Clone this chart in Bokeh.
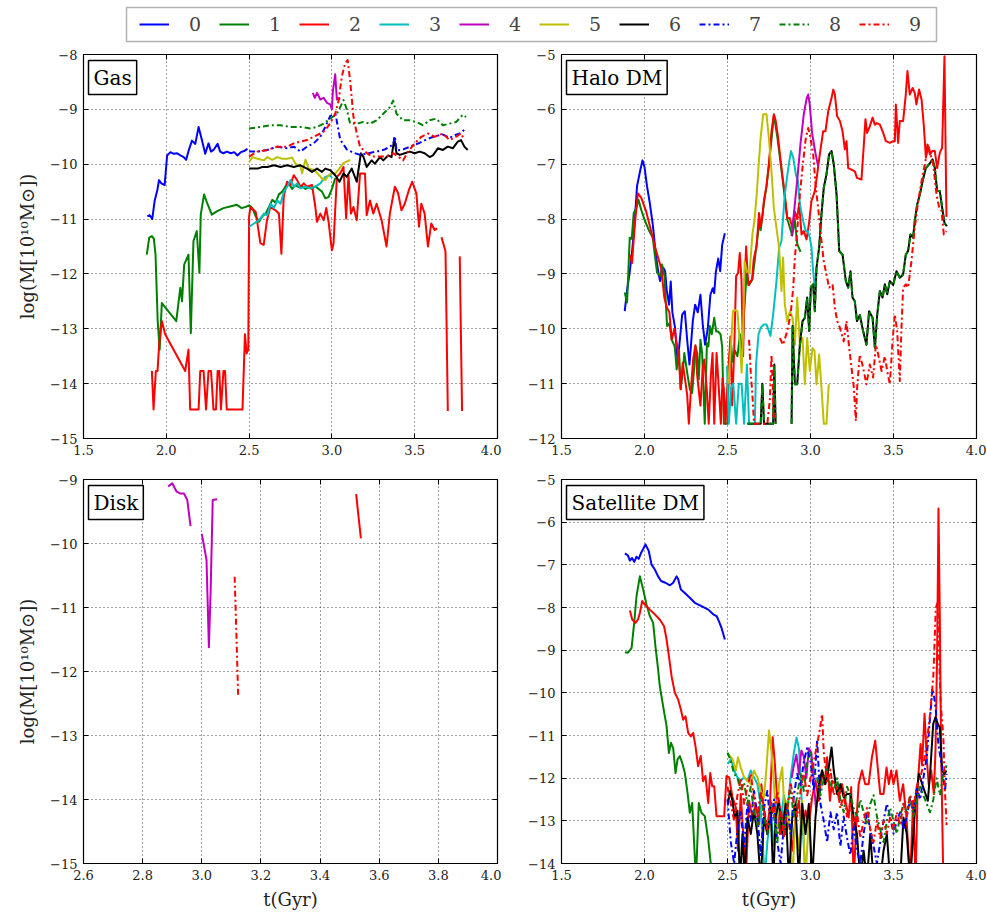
from bokeh.plotting import figure
from bokeh.models import (Range1d, FixedTicker, Label, Legend, LegendItem,
                          LinearAxis, CustomJSTickFormatter, BoxAnnotation)
from bokeh.layouts import column, row
from bokeh.embed import file_html
from bokeh.resources import INLINE

nan = float("nan")

SERIES = [str(i) for i in range(10)]
COLORS = ["#0000ff", "#008000", "#ff0000", "#00bfbf", "#bf00bf",
          "#bfbf00", "#000000", "#0000ff", "#008000", "#ff0000"]
DASHES = ["solid"] * 7 + ["6 3 2 3"] * 3

X_TICKS = [1.5, 2.0, 2.5, 3.0, 3.5, 4.0]
X_TICKS_DISK = [2.6, 2.8, 3.0, 3.2, 3.4, 3.6, 3.8, 4.0]
Y_TICKS_GAS = [-15, -14, -13, -12, -11, -10, -9, -8]
Y_TICKS_HALO = [-12, -11, -10, -9, -8, -7, -6, -5]
Y_TICKS_DISK = [-15, -14, -13, -12, -11, -10, -9]
Y_TICKS_SAT = [-14, -13, -12, -11, -10, -9, -8, -7, -6, -5]

# ---------------- Gas ----------------
GAS_0 = [(1.886,-10.95),(1.90,-10.93),(1.915,-11.0),(1.93,-10.66),(1.946,-10.47),(1.956,-10.29),
         (1.97,-10.35),(1.99,-10.38),(2.005,-9.84),(2.025,-9.78),(2.045,-9.81),(2.065,-9.80),
         (2.085,-9.84),(2.105,-9.87),(2.12,-9.92),(2.135,-9.75),(2.155,-9.57),(2.175,-9.63),
         (2.195,-9.32),(2.215,-9.56),(2.235,-9.81),(2.255,-9.62),(2.27,-9.77),(2.285,-9.74),
         (2.31,-9.63),(2.325,-9.77),(2.345,-9.80),(2.365,-9.77),(2.39,-9.80),(2.41,-9.78),
         (2.43,-9.84),(2.45,-9.78),(2.47,-9.76),(2.49,-9.72)]
GAS_1 = [(1.882,-11.65),(1.897,-11.34),(1.913,-11.31),(1.925,-11.36),(1.935,-11.65),(1.948,-12.86),
         (1.96,-13.38),(1.973,-12.53),(2.06,-12.86),(2.085,-12.25),(2.095,-12.5),(2.108,-11.83),
         (2.134,-11.65),(2.148,-13.08),(2.164,-11.4),(2.184,-11.22),(2.20,-11.98),(2.208,-10.92),
         (2.228,-10.55),(2.248,-10.72),(2.275,-10.92),(2.305,-10.86),(2.345,-10.80),(2.385,-10.77),
         (2.426,-10.74),(2.456,-10.8),(2.486,-10.77),(2.50,-10.75),(2.52,-10.80),(2.54,-10.95),
         (2.56,-11.05),(2.58,-10.95),(2.60,-10.90),(2.62,-10.78),(2.64,-10.65),(2.66,-10.70),
         (2.68,-10.55),(2.70,-10.50),(2.72,-10.40),(2.74,-10.35),(2.76,-10.45),(2.78,-10.38),
         (2.80,-10.42),(2.82,-10.40),(2.84,-10.45),(2.86,-10.42),(2.88,-10.45),(2.90,-10.40),
         (2.92,-10.45),(2.94,-10.50),(2.96,-10.62),(2.98,-10.60),(3.00,-10.45),(3.02,-10.25)]
GAS_2 = [(1.913,-13.77),(1.923,-14.47),(1.937,-13.77),(1.947,-13.77),(1.957,-13.28),(1.973,-12.86),
         (1.993,-13.1),(2.114,-13.77),(2.134,-13.38),(2.144,-14.47),(2.195,-14.47),(2.205,-13.77),
         (2.225,-13.77),(2.24,-14.47),(2.255,-13.77),(2.27,-13.77),(2.285,-14.47),(2.30,-14.47),
         (2.31,-13.77),(2.32,-13.77),(2.33,-14.47),(2.345,-13.77),(2.355,-13.77),(2.365,-14.47),
         (2.46,-14.47),(2.475,-13.1),(2.485,-13.45),(2.495,-13.38),(2.50,-10.95),(2.508,-10.78),
         (2.54,-10.87),(2.568,-11.44),(2.588,-11.47),(2.608,-11.02),(2.628,-10.78),(2.659,-10.84),
         (2.68,-10.9),(2.695,-11.63),(2.709,-10.6),(2.729,-10.32),(2.75,-10.38),(2.77,-10.2),
         (2.79,-10.29),(2.81,-10.41),(2.83,-10.35),(2.85,-10.41),(2.88,-10.38),(2.90,-10.78),
         (2.91,-11.05),(2.93,-10.9),(2.95,-11.02),(2.966,-10.8),(2.98,-11.05),(3.0,-11.57),
         (3.01,-11.44),(3.03,-10.23),(3.05,-10.17),(3.07,-10.05),(3.086,-10.99),(3.10,-10.2),
         (3.115,-10.9),(3.13,-10.78),(3.15,-11.02),(3.17,-10.17),(3.20,-10.17),(3.21,-10.93),
         (3.23,-10.66),(3.25,-10.9),(3.27,-10.72),(3.30,-11.02),(3.33,-11.5),(3.35,-10.9),
         (3.38,-10.41),(3.40,-10.53),(3.42,-10.84),(3.44,-10.72),(3.465,-10.47),(3.485,-10.32),
         (3.51,-10.53),(3.526,-11.14),(3.54,-10.72),(3.56,-10.9),(3.58,-11.5),(3.60,-11.08),
         (3.62,-11.2),(3.636,-11.17),(nan,nan),(3.662,-11.33),(3.686,-11.59),(3.70,-14.5),
         (nan,nan),(3.772,-11.68),(3.786,-14.5)]
GAS_3 = [(2.50,-11.14),(2.53,-11.08),(2.56,-11.02),(2.59,-10.9),(2.61,-10.93),(2.63,-10.72),
         (2.65,-10.8),(2.67,-10.66),(2.69,-10.72),(2.71,-10.5),(2.73,-10.41),(2.75,-10.29),
         (2.77,-10.41),(2.79,-10.35),(2.81,-10.44),(2.84,-10.41),(2.87,-10.44),(2.90,-10.41),
         (2.93,-10.35),(2.96,-10.23),(2.99,-10.2),(3.0,-10.25)]
GAS_4 = [(2.885,-8.70),(2.897,-8.79),(2.91,-8.70),(2.93,-8.82),(2.95,-8.79),(2.97,-8.88),
         (2.99,-8.91),(3.0,-9.0),(3.006,-8.67),(3.02,-8.36),(3.03,-8.82),(3.04,-8.79),(3.05,-8.82)]
GAS_5 = [(2.50,-9.96),(2.52,-9.87),(2.55,-9.9),(2.59,-9.93),(2.61,-9.87),(2.64,-9.92),(2.67,-9.87),
         (2.70,-9.9),(2.73,-9.9),(2.76,-9.88),(2.78,-9.99),(2.81,-10.04),(2.82,-10.17),(2.84,-9.92),
         (2.86,-10.08),(2.89,-10.1),(2.92,-10.19),(2.94,-10.26),(2.96,-10.29),(2.98,-10.2),
         (3.0,-10.16),(3.02,-10.17),(3.04,-10.1),(3.07,-9.98),(3.11,-9.92)]
GAS_6 = [(2.50,-10.08),(2.55,-10.08),(2.58,-10.05),(2.61,-10.05),(2.65,-10.02),(2.69,-10.05),
         (2.73,-10.02),(2.77,-10.05),(2.81,-10.02),(2.85,-10.08),(2.88,-10.14),(2.91,-10.08),
         (2.94,-10.14),(2.96,-10.08),(2.99,-10.11),(3.02,-10.2),(3.046,-10.32),(3.07,-10.17),
         (3.09,-10.23),(3.12,-10.08),(3.15,-10.32),(3.175,-9.80),(3.19,-9.86),(3.21,-10.05),
         (3.24,-9.93),(3.26,-9.99),(3.29,-9.87),(3.31,-9.93),(3.34,-9.84),(3.36,-9.87),
         (3.377,-9.53),(3.39,-9.8),(3.41,-9.83),(3.44,-9.8),(3.47,-9.77),(3.50,-9.8),(3.53,-9.77),
         (3.56,-9.8),(3.59,-9.87),(3.61,-9.84),(3.64,-9.71),(3.67,-9.74),(3.70,-9.68),(3.73,-9.71),
         (3.76,-9.59),(3.78,-9.56),(3.80,-9.68),(3.82,-9.74)]
GAS_7 = [(2.50,-9.77),(2.55,-9.77),(2.61,-9.74),(2.67,-9.68),(2.73,-9.71),(2.77,-9.68),(2.81,-9.77),
         (2.85,-9.68),(2.89,-9.62),(2.93,-9.50),(2.96,-9.32),(2.99,-9.12),(3.022,-9.09),(3.05,-9.55),
         (3.09,-9.73),(3.13,-9.79),(3.17,-9.83),(3.22,-9.8),(3.27,-9.77),(3.32,-9.73),(3.37,-9.64),
         (3.38,-9.49),(3.39,-9.75),(3.43,-9.73),(3.48,-9.67),(3.53,-9.61),(3.57,-9.55),(3.62,-9.49),
         (3.67,-9.46),(3.71,-9.52),(3.75,-9.46),(3.78,-9.43),(3.81,-9.34)]
GAS_8 = [(2.50,-9.35),(2.57,-9.32),(2.63,-9.29),(2.69,-9.29),(2.75,-9.32),(2.81,-9.32),(2.87,-9.35),
         (2.91,-9.32),(2.95,-9.26),(2.99,-9.17),(3.03,-9.08),(3.06,-8.9),(3.07,-8.83),(3.09,-9.0),
         (3.11,-9.26),(3.15,-9.26),(3.19,-9.23),(3.23,-9.26),(3.27,-9.2),(3.31,-9.08),(3.35,-8.96),
         (3.37,-8.84),(3.39,-9.08),(3.43,-9.2),(3.47,-9.2),(3.51,-9.23),(3.55,-9.29),(3.59,-9.2),
         (3.63,-9.17),(3.67,-9.29),(3.71,-9.26),(3.75,-9.23),(3.79,-9.1),(3.81,-9.14)]
GAS_9 = [(2.50,-9.86),(2.55,-9.77),(2.61,-9.74),(2.67,-9.68),(2.73,-9.68),(2.77,-9.62),(2.81,-9.59),
         (2.85,-9.56),(2.89,-9.5),(2.93,-9.44),(2.96,-9.38),(2.99,-9.25),(3.02,-9.08),(3.04,-8.85),
         (3.06,-8.4),(3.08,-8.16),(3.095,-8.1),(3.11,-8.47),(3.13,-9.13),(3.15,-9.44),(3.17,-9.68),
         (3.20,-9.77),(3.24,-9.86),(3.29,-9.86),(3.33,-9.86),(3.37,-9.8),(3.40,-9.86),(3.43,-9.93),
         (3.46,-9.77),(3.50,-9.62),(3.54,-9.5),(3.58,-9.44),(3.62,-9.5),(3.67,-9.44),(3.71,-9.56),
         (3.75,-9.5),(3.78,-9.44),(3.80,-9.56)]

# ---------------- Halo DM ----------------
HALO_0 = [(1.881,-9.68),(1.895,-9.3),(1.91,-8.99),(1.925,-8.6),(1.94,-8.1),(1.955,-7.4),(1.965,-7.25),
          (1.975,-7.1),(1.988,-6.93),(2.0,-7.05),(2.015,-7.4),(2.03,-7.67),(2.05,-8.1),(2.07,-8.7),
          (2.085,-9.0),(2.094,-9.13),(2.104,-9.0),(2.114,-8.89),(2.124,-8.95),(2.134,-9.3),
          (2.148,-9.56),(2.158,-9.14),(2.168,-9.7),(2.184,-9.98),(2.20,-10.62),(2.213,-10.2),
          (2.227,-9.74),(2.243,-9.68),(2.257,-10.2),(2.271,-10.65),(2.291,-9.86),(2.305,-9.56),
          (2.321,-9.7),(2.337,-9.38),(2.351,-9.92),(2.365,-10.29),(2.381,-10.0),(2.397,-9.38),
          (2.411,-9.26),(2.42,-9.35),(2.43,-8.96),(2.444,-8.72),(2.456,-8.95),(2.468,-8.47),
          (2.484,-8.26)]
HALO_1 = [(1.881,-9.34),(1.895,-9.52),(1.911,-8.34),(1.923,-8.36),(1.935,-7.89),(1.95,-7.80),
          (1.964,-7.65),(1.98,-7.83),(2.0,-8.01),(2.024,-8.19),(2.05,-8.34),(2.064,-8.7),(2.076,-8.98),
          (2.096,-9.04),(2.106,-8.83),(2.12,-9.04),(2.136,-9.95),(2.15,-9.9),(2.164,-10.2),
          (2.182,-10.32),(2.194,-10.74),(2.208,-10.38),(2.218,-11.1),(2.23,-10.8),(2.24,-10.44),
          (2.257,-10.8),(2.273,-11.1),(2.287,-11.17),(2.297,-10.8),(2.307,-10.32),(2.317,-10.44),
          (2.327,-10.92),(2.337,-10.2),(2.347,-10.44),(2.363,-11.73),(2.376,-10.26),(2.385,-10.32),
          (2.394,-9.95),(2.405,-10.1),(2.42,-9.8),(2.432,-10.05),(2.444,-10.05),(2.458,-10.1),
          (2.468,-10.32),(2.478,-11.73),(2.50,-11.73),(2.51,-10.6),(2.52,-10.2),(2.53,-10.6),
          (2.545,-10.4),(2.56,-10.5),(2.575,-10.1),(2.59,-10.5),(2.60,-9.7),(2.615,-9.0),
          (2.63,-9.2),(2.65,-9.1),(2.67,-8.6),(2.69,-8.1),(2.70,-8.2),(2.72,-7.7),(2.735,-7.4),
          (2.75,-7.0),(2.78,-6.1),(2.80,-6.5),(2.825,-7.1),(2.845,-7.6),(2.86,-8.0),(2.89,-8.3),
          (2.905,-8.0),(2.92,-8.45),(2.94,-8.6)]
HALO_2 = [(1.91,-8.65),(1.925,-8.8),(1.94,-8.16),(1.96,-7.53),(1.98,-7.61),(2.01,-7.86),(2.04,-8.22),
          (2.07,-8.58),(2.10,-8.89),(2.12,-9.44),(2.136,-9.62),(2.15,-9.7),(2.164,-10.2),(2.18,-10.0),
          (2.20,-10.38),(2.21,-10.7),(2.218,-11.1),(2.23,-10.62),(2.243,-10.9),(2.257,-11.2),
          (2.267,-11.73),(2.28,-11.1),(2.293,-10.56),(2.307,-10.3),(2.317,-10.84),(2.337,-11.4),
          (2.35,-10.75),(2.36,-10.56),(2.375,-11.1),(2.387,-11.73),(2.40,-10.84),(2.41,-10.44),
          (2.42,-11.73),(2.434,-10.44),(2.448,-11.1),(2.46,-11.73),(2.47,-10.9),(2.478,-11.1),
          (2.488,-11.73),(2.498,-11.1),(2.508,-10.62),(2.518,-10.14),(2.528,-11.4),(2.54,-10.44),
          (2.552,-9.04),(2.564,-8.98),(2.574,-8.62),(2.584,-9.1),(2.594,-10.5),(2.602,-9.3),
          (2.612,-8.5),(2.625,-9.2),(2.638,-9.14),(2.648,-9.1),(2.658,-8.73),(2.675,-8.5),
          (2.69,-7.89),(2.70,-8.13),(2.71,-7.95),(2.72,-7.65),(2.735,-7.4),(2.75,-6.98),
          (2.765,-6.4),(2.779,-6.09),(2.79,-6.2),(2.805,-6.52),(2.825,-7.07),(2.845,-7.55),
          (2.86,-7.98),(2.875,-7.98),(2.89,-8.16),(2.905,-7.86),(2.918,-8.0),(2.932,-7.73),
          (2.946,-8.28),(2.96,-8.22),(2.976,-8.37),(2.99,-8.1),(3.006,-7.67),(3.026,-7.49),
          (3.04,-7.19),(3.056,-6.82),(3.076,-6.4),(3.09,-6.4),(3.107,-6.03),(3.127,-5.79),
          (3.137,-5.64),(3.147,-5.73),(3.16,-6.12),(3.177,-6.21),(3.193,-6.4),(3.207,-6.73),
          (3.217,-6.58),(3.227,-7.07),(3.247,-7.1),(3.267,-7.13),(3.28,-7.25),(3.307,-7.28),
          (3.32,-6.7),(3.331,-6.18),(3.341,-6.43),(3.357,-6.31),(3.374,-6.15),(3.388,-6.28),
          (3.40,-6.25),(3.418,-6.28),(3.438,-6.43),(3.454,-6.58),(3.478,-6.61),(3.498,-6.58),
          (3.508,-6.58),(3.514,-5.91),(3.528,-6.61),(3.538,-6.21),(3.558,-6.21),(3.574,-5.73),
          (3.584,-5.3),(3.598,-5.73),(3.615,-5.61),(3.628,-5.7),(3.638,-5.91),(3.654,-5.64),
          (3.669,-5.82),(3.683,-6.31),(3.695,-6.88),(3.705,-6.64),(3.719,-6.82),(3.733,-6.76),
          (3.749,-6.76),(3.763,-7.07),(3.779,-6.79),(3.793,-6.7),(3.807,-5.03),(3.819,-7.96)]
HALO_3 = [(2.497,-10.68),(2.508,-11.73),(2.522,-11.07),(2.535,-11.0),(2.552,-11.73),(2.568,-11.0),
          (2.585,-11.0),(2.60,-11.73),(2.617,-10.65),(2.63,-11.73),(2.665,-11.73),(2.672,-10.65),
          (2.687,-10.1),(2.70,-9.98),(2.718,-9.92),(2.735,-9.92),(2.759,-10.13),(2.775,-9.74),
          (2.795,-9.13),(2.811,-8.52),(2.825,-8.4),(2.845,-7.55),(2.866,-7.07),(2.882,-6.76),
          (2.896,-6.88),(2.912,-7.19),(2.924,-7.3),(2.936,-7.73),(2.956,-8.04),(2.972,-8.22),
          (2.984,-8.22),(2.996,-8.34),(3.006,-8.52),(3.016,-8.95),(3.026,-9.25)]
HALO_4 = [(2.886,-8.31),(2.90,-7.9),(2.92,-7.29),(2.94,-6.62),(2.96,-6.08),(2.977,-5.8),(2.986,-5.73),
          (2.995,-5.9),(3.01,-6.44),(3.03,-6.8),(3.046,-7.04)]
HALO_5 = [(2.505,-11.0),(2.52,-10.35),(2.533,-9.68),(2.545,-9.66),(2.56,-9.68),(2.575,-10.29),
          (2.585,-10.8),(2.593,-10.17),(2.603,-8.77),(2.617,-8.95),(2.633,-8.98),(2.65,-8.28),
          (2.662,-8.04),(2.676,-7.55),(2.688,-7.0),(2.70,-6.5),(2.715,-6.09),(2.735,-6.09),
          (2.751,-6.58),(2.765,-7.13),(2.779,-7.79),(2.795,-8.16),(2.811,-8.52),(2.825,-9.31),
          (2.835,-8.7),(2.845,-9.55),(2.86,-9.86),(2.876,-9.68),(2.892,-9.8),(2.906,-10.29),
          (2.92,-9.43),(2.936,-10.29),(2.952,-10.17),(2.966,-11.01),(2.98,-10.17),(2.996,-10.77),
          (3.012,-10.35),(3.024,-10.4),(3.036,-11.01),(3.052,-10.47),(3.066,-11.07),(3.08,-11.73),
          (3.096,-11.73),(3.11,-11.01)]
HALO_6 = [(2.62,-11.73),(2.70,-11.73),(2.71,-11.0),(2.72,-11.73),(2.775,-11.73),(2.782,-10.65),
          (2.79,-11.73),(nan,nan),(2.886,-11.73),(2.892,-9.95),(2.906,-11.01),(2.92,-11.01),
          (2.936,-10.29),(2.952,-9.86),(2.966,-9.8),(2.98,-9.43),(2.992,-10.04),(3.002,-9.25),
          (3.016,-9.19),(3.026,-9.68),(3.036,-8.89),(3.052,-8.52),(3.066,-7.92),(3.08,-7.43),
          (3.096,-7.19),(3.112,-6.82),(3.127,-6.76),(3.14,-7.0),(3.157,-7.55),(3.173,-8.58),
          (3.193,-8.65),(3.213,-9.13),(3.227,-9.25),(3.241,-8.95),(3.253,-9.43),(3.267,-9.5),
          (3.28,-9.86),(3.297,-9.75),(3.317,-10.04),(3.337,-10.29),(3.353,-9.68),(3.374,-9.8),
          (3.388,-10.35),(3.402,-9.74),(3.418,-9.31),(3.434,-9.43),(3.448,-9.19),(3.462,-9.37),
          (3.478,-9.13),(3.498,-9.2),(3.518,-8.95),(3.538,-9.07),(3.558,-9.01),(3.574,-8.65),
          (3.588,-8.58),(3.602,-8.28),(3.618,-8.34),(3.628,-8.04),(3.643,-7.73),(3.659,-7.55),
          (3.675,-7.31),(3.695,-7.07),(3.715,-7.0),(3.735,-6.91),(3.749,-7.07),(3.763,-7.49),
          (3.779,-7.49),(3.793,-7.79),(3.807,-8.07),(3.821,-8.13)]
HALO_8 = list(HALO_6)
HALO_9 = [(2.63,-10.2),(2.64,-10.8),(2.65,-11.2),(2.66,-11.73),(2.74,-11.73),(2.755,-11.3),
          (2.765,-10.47),(2.772,-11.0),(2.779,-11.68),(nan,nan),(2.815,-10.17),(2.835,-10.29),
          (2.86,-10.04),(2.88,-9.74),(2.896,-9.25),(2.906,-8.7),(2.92,-8.22),(2.936,-7.55),
          (2.956,-6.94),(2.972,-6.52),(2.986,-6.34),(2.996,-6.46),(3.016,-6.82),(3.032,-7.43),
          (3.046,-7.79),(3.066,-8.4),(3.08,-8.77),(3.096,-9.01),(3.112,-9.25),(3.133,-9.19),
          (3.147,-9.62),(3.161,-9.86),(3.177,-9.98),(3.2,-10.23),(3.217,-9.86),(3.233,-10.35),
          (3.247,-10.71),(3.261,-11.07),(3.273,-11.68),(3.281,-11.07),(3.297,-10.47),(3.317,-10.71),
          (3.337,-11.01),(3.357,-10.65),(3.377,-10.89),(3.394,-10.29),(3.408,-10.47),(3.428,-10.77),
          (3.448,-10.5),(3.462,-10.77),(3.478,-11.01),(3.494,-10.23),(3.508,-9.74),(3.522,-10.04),
          (3.538,-10.95),(3.548,-9.98),(3.558,-9.25),(3.574,-9.19),(3.588,-9.25),(3.608,-8.77),
          (3.628,-8.16),(3.649,-7.67),(3.669,-7.31),(3.689,-7.0),(3.709,-6.64),(3.723,-6.82),
          (3.739,-7.0),(3.759,-7.55),(3.775,-7.79),(3.789,-7.85),(3.803,-8.28),(3.819,-8.22)]

# ---------------- Disk ----------------
DISK_2 = [(3.522,-9.23),(3.538,-9.92)]
DISK_4 = [(2.886,-9.11),(2.90,-9.06),(2.915,-9.19),(2.928,-9.22),(2.94,-9.22),(2.951,-9.32),
          (2.962,-9.73),(nan,nan),(3.0,-9.85),(3.01,-10.1),(3.016,-10.26),(3.024,-11.62),
          (3.03,-10.73),(3.037,-9.32),(3.052,-9.31)]
DISK_9 = [(3.111,-10.52),(3.114,-10.95),(3.117,-11.4),(3.12,-11.9),(3.123,-12.37)]

# ---------------- Satellite DM ----------------
SAT_0 = [(1.882,-6.73),(1.90,-6.78),(1.912,-6.9),(1.925,-6.84),(1.938,-6.93),(1.952,-6.81),
         (1.965,-6.86),(1.978,-6.73),(1.992,-6.63),(2.006,-6.52),(2.026,-6.68),(2.042,-6.99),
         (2.062,-7.11),(2.082,-7.27),(2.10,-7.38),(2.126,-7.42),(2.153,-7.48),(2.173,-7.42),
         (2.193,-7.27),(2.203,-7.34),(2.219,-7.58),(2.243,-7.66),(2.273,-7.77),(2.303,-7.89),
         (2.343,-7.97),(2.384,-8.05),(2.414,-8.16),(2.434,-8.2),(2.448,-8.32),(2.464,-8.48),
         (2.478,-8.67),(2.484,-8.75)]
SAT_1 = [(1.882,-9.05),(1.90,-9.06),(1.922,-8.95),(1.938,-8.36),(1.952,-7.73),(1.972,-7.27),
         (1.992,-7.58),(2.012,-7.93),(2.032,-8.2),(2.052,-8.36),(2.066,-8.91),(2.082,-9.45),
         (2.092,-9.84),(2.112,-10.31),(2.133,-10.78),(2.147,-11.41),(2.159,-11.17),(2.173,-11.3),
         (2.187,-11.88),(2.199,-11.56),(2.213,-11.48),(2.227,-11.64),(2.243,-11.88),(2.259,-12.34),
         (2.273,-12.81),(2.287,-12.58),(2.31,-14.4),(2.327,-12.58),(2.343,-12.81),(2.363,-12.89),
         (2.384,-13.44),(2.41,-14.4)]
SAT_2 = [(1.912,-8.07),(1.926,-8.28),(1.946,-8.36),(1.962,-8.27),(1.972,-8.13),(1.986,-7.85),
         (2.002,-7.93),(2.032,-8.05),(2.062,-8.16),(2.092,-8.28),(2.118,-8.44),(2.133,-8.75),
         (2.147,-9.14),(2.163,-9.61),(2.183,-10.0),(2.203,-10.16),(2.219,-10.39),(2.233,-10.63),
         (2.247,-10.55),(2.263,-10.94),(2.279,-11.02),(2.293,-10.94),(2.307,-11.25),(2.323,-11.72),
         (2.339,-11.48),(2.353,-12.07),(2.367,-11.95),(2.384,-12.58),(2.396,-11.88),(2.408,-12.19),
         (2.42,-12.19),(2.434,-12.89),(2.464,-12.89),(2.48,-12.89),(2.494,-11.95),(2.51,-11.98),
         (2.53,-12.45),(2.55,-12.68),(2.563,-13.7),(2.58,-12.37),(2.595,-13.31),(2.61,-14.4),
         (2.63,-12.53),(2.65,-12.92),(2.67,-12.61),(2.69,-13.08),(2.704,-12.14),(2.72,-12.76),
         (2.74,-13.31),(2.756,-12.6),(2.772,-11.04),(2.784,-11.59),(2.80,-12.53),(2.816,-13.31),
         (2.832,-12.76),(2.85,-13.31),(2.87,-13.0),(2.89,-13.7),(2.91,-12.92),(2.93,-12.53),
         (2.95,-13.31),(2.97,-12.76),(2.99,-13.08),(3.01,-12.45),(3.03,-12.06),(3.05,-12.53),
         (3.07,-11.82),(3.085,-12.14),(3.10,-11.51),(3.117,-12.53),(3.13,-12.06),(3.15,-12.14),
         (3.17,-12.45),(3.19,-12.14),(3.21,-12.53),(3.23,-12.92),(3.245,-12.21),(3.26,-14.4),
         (3.278,-12.92),(3.29,-12.14),(3.31,-11.82),(3.33,-12.14),(3.35,-12.14),(3.37,-11.51),
         (3.39,-11.12),(3.405,-11.75),(3.42,-12.37),(3.44,-12.37),(3.458,-11.75),(3.472,-12.14),
         (3.486,-11.82),(3.50,-12.14),(3.518,-11.82),(3.538,-12.53),(3.558,-12.14),(3.578,-12.92),
         (3.60,-14.4),(3.618,-12.53),(3.633,-14.4),(3.646,-12.14),(3.663,-11.2),(3.672,-11.7),
         (3.687,-10.49),(3.70,-11.51),(3.712,-12.14),(3.727,-11.82),(3.743,-12.37),(3.753,-11.35),
         (3.763,-9.01),(3.771,-5.68),(3.779,-8.22),(3.787,-11.35),(3.80,-14.4)]
SAT_3 = [(2.503,-11.67),(2.52,-11.55),(2.54,-11.82),(2.56,-11.98),(2.58,-12.06),(2.60,-11.98),
         (2.62,-12.06),(2.64,-11.82),(2.66,-11.98),(2.68,-12.14),(2.696,-12.53),(2.71,-13.31),
         (2.724,-14.4),(2.74,-13.5),(2.76,-12.8),(2.78,-13.6),(2.80,-12.6),(2.82,-13.0),(2.84,-12.4),
         (2.86,-12.8),(2.88,-12.0),(2.90,-11.4),(2.916,-11.05),(2.93,-11.3),(2.94,-11.9),
         (2.95,-12.8),(2.96,-13.6),(2.97,-14.4)]
SAT_4 = [(2.886,-12.0),(2.90,-11.7),(2.915,-11.45),(2.93,-11.9),(2.945,-11.35),(2.96,-11.5),
         (2.975,-12.0),(2.99,-11.3),(3.005,-11.4),(3.02,-12.1),(3.035,-12.8)]
SAT_5 = [(2.503,-11.43),(2.53,-11.55),(2.55,-11.82),(2.563,-11.51),(2.58,-11.75),(2.60,-11.98),
         (2.62,-12.06),(2.64,-12.14),(2.66,-11.82),(2.68,-11.98),(2.70,-12.3),(2.72,-12.45),
         (2.735,-11.75),(2.75,-10.88),(2.764,-11.35),(2.78,-12.14),(2.796,-13.31),(2.81,-12.14),
         (2.83,-11.75),(2.845,-12.92),(2.86,-12.53),(2.877,-13.31),(2.89,-14.4),(2.91,-12.92),
         (2.93,-13.7),(2.95,-12.53),(2.97,-14.4),(2.99,-12.92),(3.01,-14.4)]
SAT_6 = [(2.503,-12.6),(2.515,-12.3),(2.53,-12.53),(2.543,-12.92),(2.56,-12.76),(2.575,-14.4),
         (2.59,-13.31),(2.604,-14.4),(2.62,-12.92),(2.64,-13.31),(2.66,-12.76),(2.68,-13.31),
         (2.70,-14.4),(2.72,-12.92),(2.74,-13.31),(2.76,-12.68),(2.776,-14.4),(2.79,-12.92),
         (2.81,-12.53),(2.83,-13.31),(2.85,-12.6),(2.87,-14.4),(2.89,-12.92),(2.91,-12.6),
         (2.93,-14.4),(2.95,-12.6),(2.97,-13.31),(2.99,-12.6),(3.01,-14.4),(3.03,-12.92),
         (3.05,-12.14),(3.07,-11.82),(3.09,-12.14),(3.11,-11.75),(3.127,-11.28),(3.14,-11.82),
         (3.16,-12.37),(3.18,-12.14),(3.20,-12.45),(3.22,-12.37),(3.24,-12.37),(3.26,-12.92),
         (3.28,-13.31),(3.30,-14.4),(3.32,-13.7),(3.34,-14.4),(3.36,-13.31),(3.38,-14.4),
         (3.42,-14.4),(3.44,-13.7),(3.46,-13.31),(3.48,-14.4),(3.54,-14.4),(3.56,-12.92),
         (3.58,-13.31),(3.60,-14.4),(3.62,-13.31),(3.633,-12.53),(3.653,-11.9),(3.673,-12.14),
         (3.693,-12.37),(3.707,-12.53),(3.723,-11.75),(3.739,-10.73),(3.753,-10.57),(3.767,-10.73),
         (3.779,-10.81),(3.793,-11.82),(3.807,-11.9),(3.819,-11.82)]
SAT_7 = [(2.50,-12.5),(2.52,-13.5),(2.54,-14.0),(2.56,-13.2),(2.58,-12.8),(2.60,-13.6),(2.62,-12.6),
         (2.64,-13.0),(2.66,-12.3),(2.68,-12.9),(2.70,-13.8),(2.72,-12.7),(2.74,-12.3),(2.76,-13.1),
         (2.78,-12.5),(2.80,-13.5),(2.82,-14.0),(2.84,-13.1),(2.86,-12.6),(2.88,-13.3),(2.90,-12.4),
         (2.92,-11.9),(2.94,-12.2),(2.96,-11.6),(2.98,-11.3),(3.00,-11.6),(3.02,-12.3),(3.04,-11.1),
         (3.06,-12.6),(3.08,-13.0),(3.10,-13.5),(3.12,-12.8),(3.14,-13.2),(3.16,-12.8),(3.18,-13.6),
         (3.20,-12.9),(3.22,-13.4),(3.24,-13.8),(3.26,-13.1),(3.28,-13.7),(3.30,-14.0),(3.32,-13.3),
         (3.34,-12.8),(3.36,-13.2),(3.38,-13.6),(3.40,-14.0),(3.42,-13.5),(3.44,-13.0),(3.46,-12.6),
         (3.48,-12.9),(3.50,-13.3),(3.52,-13.0),(3.54,-12.8),(3.56,-13.2),(3.58,-12.9),(3.60,-12.5),
         (3.62,-12.8),(3.64,-12.2),(3.66,-12.5),(3.68,-12.0),(3.70,-11.5),(3.72,-10.6),(3.735,-9.9),
         (3.745,-10.1),(3.755,-10.4),(3.77,-11.2),(3.79,-11.7),(3.81,-12.3),(3.82,-11.9)]
SAT_8 = [(2.50,-11.4),(2.52,-11.6),(2.54,-11.9),(2.56,-12.0),(2.58,-12.3),(2.60,-12.1),(2.62,-12.6),
         (2.64,-12.2),(2.66,-12.8),(2.68,-13.1),(2.70,-12.4),(2.72,-12.9),(2.74,-13.3),(2.76,-12.6),
         (2.78,-12.9),(2.80,-13.5),(2.82,-12.8),(2.84,-13.2),(2.86,-12.7),(2.88,-12.3),(2.90,-12.9),
         (2.92,-12.4),(2.94,-11.9),(2.96,-12.3),(2.98,-11.6),(3.00,-11.4),(3.02,-11.8),(3.04,-12.0),
         (3.06,-12.4),(3.08,-12.0),(3.10,-11.8),(3.12,-12.2),(3.14,-12.3),(3.16,-12.0),(3.18,-12.5),
         (3.20,-12.8),(3.22,-12.2),(3.24,-12.4),(3.26,-12.7),(3.28,-12.9),(3.30,-12.5),(3.32,-12.8),
         (3.34,-13.1),(3.36,-12.6),(3.38,-12.4),(3.40,-12.9),(3.42,-13.2),(3.44,-13.5),(3.46,-13.0),
         (3.48,-12.7),(3.50,-13.0),(3.52,-13.3),(3.54,-12.9),(3.56,-12.6),(3.58,-12.8),(3.60,-12.4),
         (3.62,-12.9),(3.64,-12.5),(3.66,-12.2),(3.68,-12.4),(3.70,-12.6),(3.72,-12.8),(3.74,-12.5),
         (3.76,-12.0),(3.78,-12.4),(3.80,-11.9),(3.82,-11.7)]
SAT_9 = [(2.50,-12.2),(2.52,-12.6),(2.54,-13.0),(2.56,-12.4),(2.58,-12.0),(2.60,-12.6),(2.62,-12.2),
         (2.64,-11.9),(2.66,-12.5),(2.68,-12.9),(2.70,-12.3),(2.72,-12.7),(2.74,-13.2),(2.76,-12.5),
         (2.78,-12.9),(2.80,-12.3),(2.82,-12.8),(2.84,-13.4),(2.86,-12.7),(2.88,-12.1),(2.90,-12.6),
         (2.92,-12.9),(2.94,-12.3),(2.96,-11.9),(2.98,-12.4),(3.00,-12.0),(3.02,-11.6),(3.05,-11.0),
         (3.07,-10.5),(3.08,-11.4),(3.10,-12.1),(3.12,-11.8),(3.14,-12.4),(3.16,-12.2),(3.18,-12.7),
         (3.20,-12.4),(3.22,-12.9),(3.24,-12.6),(3.26,-13.1),(3.28,-12.8),(3.30,-13.4),(3.32,-13.0),
         (3.34,-12.7),(3.36,-13.2),(3.38,-13.5),(3.40,-13.0),(3.42,-13.4),(3.44,-13.0),(3.46,-13.3),
         (3.48,-12.9),(3.50,-13.2),(3.52,-12.8),(3.54,-13.1),(3.56,-12.6),(3.58,-12.9),(3.60,-12.4),
         (3.62,-12.7),(3.64,-12.2),(3.66,-12.0),(3.68,-11.7),(3.70,-11.2),(3.72,-10.5),(3.74,-9.6),
         (3.755,-8.0),(3.765,-7.9),(3.775,-9.2),(3.785,-10.3),(3.80,-11.0),(3.81,-12.3),(3.82,-13.1)]

PANELS = [
    dict(name="Gas", xr=(1.5, 4.0), yr=(-15, -8), xt=X_TICKS, yt=Y_TICKS_GAS,
         data={0: GAS_0, 1: GAS_1, 2: GAS_2, 3: GAS_3, 4: GAS_4, 5: GAS_5, 6: GAS_6,
               7: GAS_7, 8: GAS_8, 9: GAS_9}),
    dict(name="Halo DM", xr=(1.5, 4.0), yr=(-12, -5), xt=X_TICKS, yt=Y_TICKS_HALO,
         data={0: HALO_0, 1: HALO_1, 2: HALO_2, 3: HALO_3, 4: HALO_4, 5: HALO_5, 6: HALO_6,
               8: HALO_8, 9: HALO_9}),
    dict(name="Disk", xr=(2.6, 4.0), yr=(-15, -9), xt=X_TICKS_DISK, yt=Y_TICKS_DISK,
         data={2: DISK_2, 4: DISK_4, 9: DISK_9}),
    dict(name="Satellite DM", xr=(1.5, 4.0), yr=(-14, -5), xt=X_TICKS, yt=Y_TICKS_SAT,
         data={0: SAT_0, 1: SAT_1, 2: SAT_2, 3: SAT_3, 4: SAT_4, 5: SAT_5, 6: SAT_6,
               7: SAT_7, 8: SAT_8, 9: SAT_9}),
]

FONT = "DejaVu Serif"
YLABEL = "log(M[10\u00b9\u2070M\u2299])"
XLABEL = "t(Gyr)"

XFMT = "return tick.toFixed(1);"
YFMT = "return (tick < 0 ? '\u2212' : '') + Math.abs(tick).toFixed(0);"
NOFMT = "return '';"

LAYOUT = [  # frame width, left, right, top, bottom, ylabel, xlabel
    (414, 83, 4, 8, 30, True, False),
    (415, 60, 10, 8, 30, False, False),
    (414, 83, 4, 11, 48, True, True),
    (415, 60, 10, 11, 48, False, True),
]
FRAME_H = 384
LINE_W = 2.0


def make_panel(spec, lay):
    fw, bl, br, bt, bb, has_y, has_x = lay
    p = figure(frame_width=fw, frame_height=FRAME_H,
               x_range=Range1d(*spec["xr"]), y_range=Range1d(*spec["yr"]),
               output_backend="svg", toolbar_location=None,
               min_border_left=bl, min_border_right=br,
               min_border_top=bt, min_border_bottom=bb,
               outline_line_color="black", outline_line_width=1.2,
               background_fill_color="white", border_fill_color="white")
    p.xaxis.ticker = FixedTicker(ticks=spec["xt"])
    p.yaxis.ticker = FixedTicker(ticks=spec["yt"])
    p.xaxis.formatter = CustomJSTickFormatter(code=XFMT)
    p.yaxis.formatter = CustomJSTickFormatter(code=YFMT)
    for ax in (p.xaxis[0], p.yaxis[0]):
        ax.major_tick_in = 5
        ax.major_tick_out = 0
        ax.minor_tick_in = 0
        ax.minor_tick_out = 0
        ax.axis_line_color = "black"
        ax.major_tick_line_color = "black"
        ax.major_label_text_font = FONT
        ax.major_label_text_font_size = "13px"
        ax.major_label_text_color = "#222222"
        ax.major_label_standoff = 6
        ax.axis_label_text_font = FONT
        ax.axis_label_text_font_size = "18px"
        ax.axis_label_text_font_style = "normal"
        ax.axis_label_text_color = "#222222"
    if has_y:
        p.yaxis.axis_label = YLABEL
        p.yaxis.axis_label_standoff = 9
    if has_x:
        p.xaxis.axis_label = XLABEL
        p.xaxis.axis_label_standoff = 6
    # mirrored inward ticks
    for loc, ticks in (("right", spec["yt"]), ("above", spec["xt"])):
        ax = LinearAxis(ticker=FixedTicker(ticks=ticks),
                        formatter=CustomJSTickFormatter(code=NOFMT),
                        major_tick_in=5, major_tick_out=0,
                        minor_tick_in=0, minor_tick_out=0,
                        major_label_text_font_size="1px",
                        major_label_standoff=0, axis_line_color="black")
        p.add_layout(ax, loc)
    p.grid.grid_line_color = "black"
    p.grid.grid_line_dash = "1 3"
    p.grid.grid_line_alpha = 0.75
    p.grid.grid_line_width = 1

    for i in range(10):
        if i not in spec["data"]:
            continue
        pts = spec["data"][i]
        xs = [a for a, b in pts]
        ys = [b for a, b in pts]
        p.line(xs, ys, line_color=COLORS[i], line_width=LINE_W,
               line_dash=DASHES[i], line_join="round")

    x0, x1 = spec["xr"]
    y0, y1 = spec["yr"]
    lab = Label(x=x0 + 5 * (x1 - x0) / fw, y=y1 - 6 * (y1 - y0) / FRAME_H,
                text=spec["name"], text_font=FONT, text_font_size="20px",
                text_color="black", anchor="top_left",
                border_line_color="black", border_line_width=1.5,
                background_fill_color="white", background_fill_alpha=1.0,
                padding=5)
    p.add_layout(lab)
    return p


panels = [make_panel(s, l) for s, l in zip(PANELS, LAYOUT)]

LEG_W, LEG_H = 986, 46
leg = figure(width=LEG_W, height=LEG_H, x_range=Range1d(0, LEG_W), y_range=Range1d(0, LEG_H),
             output_backend="svg", toolbar_location=None, min_border=0,
             x_axis_type=None, y_axis_type=None, outline_line_color=None)
leg.grid.visible = False
leg.add_layout(BoxAnnotation(left=126, right=936, bottom=LEG_H - 41, top=LEG_H - 7,
                             fill_color="white", fill_alpha=1.0,
                             line_color="black", line_width=1.5))
items = []
for i, name in enumerate(SERIES):
    # placeholder renderer outside the visible range, only used for the legend glyph
    r = leg.line(x=[-20, -10], y=[-20, -10], line_color=COLORS[i], line_width=2,
                 line_dash=DASHES[i])
    items.append(LegendItem(label=name, renderers=[r]))
legend = Legend(items=items, orientation="horizontal", location=(139, 11),
                label_text_font=FONT, label_text_font_size="19px",
                glyph_width=30, glyph_height=20, label_standoff=20, label_width=20,
                spacing=10, padding=0, border_line_color=None,
                background_fill_alpha=0.0, margin=0)
leg.add_layout(legend, "center")

layout = column(leg, row(panels[0], panels[1]), row(panels[2], panels[3]))

open("out.html", "w").write(file_html(layout, INLINE))
